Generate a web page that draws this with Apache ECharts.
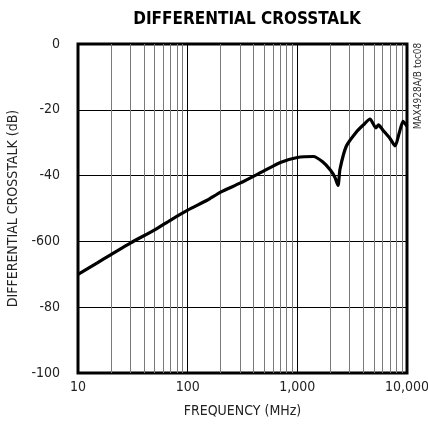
<!DOCTYPE html>
<html>
<head>
<meta charset="utf-8">
<script src="https://cdn.jsdelivr.net/npm/echarts@6/dist/echarts.min.js"></script>
<style>
  html, body { margin: 0; padding: 0; background: #fff; }
  #chart { width: 428px; height: 434px; }
</style>
</head>
<body>
<div id="chart"></div>
<script>
// frequency (MHz) and crosstalk (dB)
var freq = [10, 15, 20, 30, 50, 70, 100, 150, 200, 300, 500, 700, 1000, 1400, 1700, 2000, 2200, 2350, 2450, 2800, 3500, 4000, 4600, 5200, 5500, 6000, 7000, 7800, 8500, 9200, 10000];
var crosstalk = [-70, -66.5, -64, -60.5, -56.5, -53.5, -50.5, -47.5, -45, -42.3, -38.5, -36, -34.5, -34.2, -35.8, -38.3, -40.5, -43, -38, -31, -26.5, -24.6, -22.8, -25.5, -24.6, -26.1, -28.7, -31, -27, -23.5, -25];

// minor vertical grid lines
var minorLines = [20, 30, 40, 50, 60, 70, 80, 90, 200, 300, 400, 500, 600, 700, 800, 900, 2000, 3000, 4000, 5000, 6000, 7000, 8000, 9000];

var yTicks = [-100, -80, -60, -40, -20, 0];
var yTickLabels = ['-100', '-80', '-600', '-40', '-20', '0'];

var font = "'Liberation Sans Narrow', 'DejaVu Sans Condensed', 'Arial Narrow', sans-serif";

var mychart = echarts.init(document.getElementById('chart'));

let lineData = [];
for (let i = 0; i < freq.length; i++) {
    lineData.push([freq[i], crosstalk[i]]);
}

let options = {
    animation: false,
    title: {
        text: 'DIFFERENTIAL CROSSTALK',
        left: 242,
        top: 6,
        textAlign: 'center',
        textStyle: { fontFamily: font, fontWeight: 'bold', fontSize: 17, color: '#000' }
    },
    graphic: [{
        type: 'text',
        x: 418,
        y: 86,
        rotation: Math.PI / 2,
        style: {
            text: 'MAX4928A/B toc08',
            font: '10px ' + font,
            fill: '#333',
            align: 'center',
            verticalAlign: 'middle'
        }
    }],
    grid: {
        left: 78, right: 21, top: 44, bottom: 61,
        outerBoundsMode: 'none',
        show: true,
        borderColor: '#000',
        borderWidth: 3
    },
    xAxis: {
        type: 'log',
        logBase: 10,
        min: 10,
        max: 10000,
        name: 'FREQUENCY (MHz)',
        nameLocation: 'middle',
        nameGap: 31,
        nameTextStyle: { fontFamily: font, fontSize: 14, color: '#222' },
        axisLine: { show: false },
        axisTick: { show: false },
        axisLabel: {
            margin: 7,
            fontFamily: font, fontSize: 14, color: '#222',
            formatter: function (v) { return Number(v).toLocaleString('en-US'); }
        },
        splitLine: { show: true, lineStyle: { color: '#000', width: 1 } }
    },
    yAxis: {
        type: 'value',
        min: -100,
        max: 0,
        interval: 20,
        name: 'DIFFERENTIAL CROSSTALK (dB)',
        nameLocation: 'middle',
        nameGap: 57,
        nameTextStyle: { fontFamily: font, fontSize: 14, color: '#222' },
        axisLine: { show: false },
        axisTick: { show: false },
        axisLabel: {
            margin: 18,
            fontFamily: font, fontSize: 14, color: '#222',
            formatter: function (v) {
                let i = yTicks.indexOf(v);
                return i >= 0 ? yTickLabels[i] : '';
            }
        },
        splitLine: { show: true, lineStyle: { color: '#000', width: 1 } }
    },
    series: [{
        type: 'line',
        data: [],
        z: 1,
        silent: true,
        markLine: {
            silent: true,
            symbol: 'none',
            label: { show: false },
            lineStyle: { color: '#7a7a7a', width: 1, type: 'solid' },
            data: minorLines.map(function (v) { return { xAxis: v }; })
        }
    }, {
        type: 'line',
        data: lineData,
        z: 5,
        showSymbol: false,
        smooth: 0.2,
        lineStyle: { color: '#000', width: 3.2 }
    }]
};
mychart.setOption(options);
</script>
</body>
</html>
